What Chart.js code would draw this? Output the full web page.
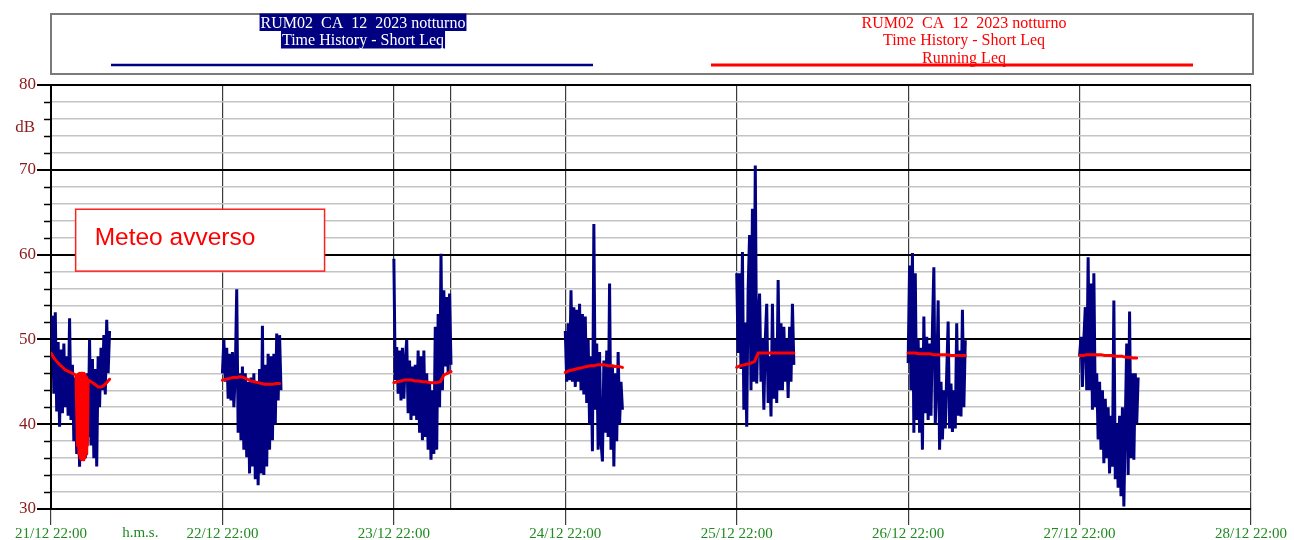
<!DOCTYPE html>
<html>
<head>
<meta charset="utf-8">
<script src="https://cdn.jsdelivr.net/npm/chart.js@4.4.1/dist/chart.umd.min.js"></script>
<style>
  html, body { margin: 0; padding: 0; background: #fff; }
  #wrap { width: 1294px; height: 540px; }
</style>
</head>
<body>
<div id="wrap"><canvas id="leqChart" width="1294" height="540"></canvas></div>
<script>
// time axis is in hours after 21/12 22:00
const nightStarts = [0, 24, 48, 72, 96, 120, 144];
const dayHours = [0, 24, 48, 72, 96, 120, 144, 168];
const dayLabels = ['21/12 22:00', '22/12 22:00', '23/12 22:00', '24/12 22:00',
                   '25/12 22:00', '26/12 22:00', '27/12 22:00', '28/12 22:00'];
const markerHours = [56];           // extra line at 24/12 06:00
const yGridValues = [30, 32, 34, 36, 38, 40, 42, 44, 46, 48, 50, 52, 54, 56, 58,
                     60, 62, 64, 66, 68, 70, 72, 74, 76, 78, 80];

// SHORT LEQ (dB), one value every 0.2 h from 22:00
const shortStep = 0.2;
const shortLeq1 = [47.5, 52.8, 43.6, 53.2, 41.5, 49.7, 39.7, 48.8, 41.3, 49.5, 42.0, 48.0, 41.0, 52.5,
                   40.5, 47.0, 38.0, 45.5, 36.5, 45.0, 35.0, 44.5, 37.0, 45.5, 36.0, 46.0, 38.5, 50.0,
                   37.5, 47.7, 36.0, 46.5, 35.0, 48.0, 42.0, 49.0, 44.0, 50.5, 43.5, 52.3, 46.0, 51.0];
const shortLeq2 = [46, 50, 45, 49, 43, 48.3, 42.8, 48.5, 42, 46, 55.9, 39, 46, 38.1, 46.8, 37, 46, 36.1,
                   45, 34.2, 45.5, 35, 46, 33.5, 45, 32.8, 46.5, 34.2, 51.6, 34, 47, 35, 48.3, 37, 48,
                   38.1, 48.3, 40, 50.7, 42.8, 50.5, 44];
const shortLeq3 = [59.5, 45.2, 49.1, 43.6, 48.7, 42.8, 49, 43, 47.5, 50, 41.3, 47.5, 40.5, 46.8, 41, 47,
                   40.5, 48.7, 39, 48, 38.1, 48.7, 38.5, 46, 37, 45, 35.8, 44, 36.5, 51.5, 37, 53, 42,
                   60.1, 44, 55.8, 46.8, 55, 46, 55.4, 47];
const shortLeq4 = [51, 45, 51.9, 45.2, 55.8, 45, 53.8, 44.4, 53.5, 45, 54.2, 44, 53, 43.5, 52.7, 42.5, 50,
                   40, 48, 36.8, 63.6, 41.7, 49.5, 37, 48.5, 38, 35.6, 47.5, 39, 48.7, 38.5, 56.6, 37,
                   47, 35, 46, 38, 48.5, 40, 45, 41.7];
const shortLeq5 = [57.8, 48.4, 57.8, 46.5, 60.3, 41.7, 52, 39.7, 56, 62.3, 44, 65.4, 45, 70.5, 44.8, 52,
                   55.4, 45, 50, 41.7, 50, 54.2, 42.5, 48, 40.9, 54.2, 43, 50, 42.5, 57, 44, 51.9, 44,
                   51.5, 45, 50, 43.1, 51.5, 45, 54.2, 47];
const shortLeq6 = [47.2, 58.7, 44, 60.2, 39, 57.8, 40.5, 50, 39, 49, 37, 52.7, 41.3, 50.3, 40.5, 49.5, 41,
                   51.3, 58.5, 40, 45, 54.6, 37, 45, 38.2, 44, 39.5, 46, 52.1, 39.5, 44.8, 39.1, 44,
                   39.5, 51.9, 41, 48.7, 40.9, 53.5, 42, 49.9];
const shortLeq7 = [48, 50.3, 44.4, 50, 53.8, 44, 59.7, 44, 56.6, 41.7, 57.8, 42, 46, 38.2, 45, 37, 44,
                   35.4, 43, 36, 42, 34.2, 41, 35, 54.6, 33.5, 40, 32.5, 41, 31.5, 42, 30.3, 40, 49.5,
                   34, 53.3, 36, 46, 35.8, 46, 40.1, 45.5];

// RUNNING LEQ (dB)
// night 1 is irregular: the bad weather burst swings the running value
const runTimes1 = [0, 0.5, 1.0, 1.5, 2.0, 2.5, 3.0, 3.5,
                   3.6, 3.7, 3.8, 3.9, 4.0, 4.1, 4.2, 4.3, 4.4, 4.5, 4.6, 4.7, 4.8, 4.9, 5.0, 5.1, 5.2,
                   5.6, 6.0, 6.6, 7.0, 7.3, 7.8, 8.2];
const runLeq1 = [48.4, 47.7, 47.2, 46.8, 46.4, 46.2, 46.0, 45.8,
                 45.8, 37.5, 45.9, 36.5, 46.0, 36.0, 46.0, 35.8, 46.0, 35.8, 46.0, 36.0, 45.8, 36.5, 45.5, 37.5, 45.2,
                 45.0, 44.8, 44.4, 44.4, 44.5, 44.9, 45.3];
// other nights: one value every 0.5 h
const runStep = 0.5;
const runLeq2 = [45.2, 45.3, 45.4, 45.5, 45.5, 45.6, 45.5, 45.3, 45.1, 45.0, 44.9, 44.8, 44.7, 44.7, 44.7, 44.8, 44.8];
const runLeq3 = [44.9, 45.0, 45.1, 45.2, 45.2, 45.2, 45.1, 45.1, 45.0, 45.0, 44.9, 44.9, 44.9, 45.0, 45.8, 46.0, 46.2];
const runLeq4 = [46.1, 46.3, 46.4, 46.5, 46.6, 46.7, 46.8, 46.9, 46.9, 47.0, 47.0, 47.0, 46.9, 46.9, 46.8, 46.8, 46.7];
const runLeq5 = [46.7, 46.9, 47.0, 47.1, 47.2, 47.4, 48.4, 48.4, 48.4, 48.4, 48.4, 48.4, 48.4, 48.4, 48.4, 48.4, 48.4];
const runLeq6 = [48.4, 48.4, 48.4, 48.3, 48.3, 48.3, 48.3, 48.2, 48.2, 48.2, 48.2, 48.2, 48.1, 48.1, 48.1, 48.1, 48.1];
const runLeq7 = [48.1, 48.1, 48.2, 48.2, 48.2, 48.2, 48.2, 48.1, 48.1, 48.1, 48.0, 48.0, 48.0, 47.9, 47.9, 47.8, 47.8];

// texts
const legendShort = ['RUM02  CA  12  2023 notturno', 'Time History - Short Leq'];
const legendRunning = ['RUM02  CA  12  2023 notturno', 'Time History - Short Leq', 'Running Leq'];
const noteText = 'Meteo avverso';

// BUILD POINTS
// ============
// one {x,y} list per series, a null point breaks the line between nights
function stepSeries(nights, step) {
    const pts = [];
    nights.forEach((vals, i) => {
        vals.forEach((v, j) => pts.push({ x: nightStarts[i] + j * step, y: v }));
        pts.push({ x: nightStarts[i] + vals.length * step, y: null });
    });
    return pts;
}

const shortPts = stepSeries([shortLeq1, shortLeq2, shortLeq3, shortLeq4, shortLeq5, shortLeq6, shortLeq7], shortStep);

const runPts = runTimes1.map((t, i) => ({ x: nightStarts[0] + t, y: runLeq1[i] }));
runPts.push({ x: 8.5, y: null });
stepSeries([runLeq2, runLeq3, runLeq4, runLeq5, runLeq6, runLeq7], runStep).forEach((p) => {
    runPts.push({ x: p.x + 24, y: p.y });   // nights 2..7 start one day later
});

// DECORATIONS
// ===========
// legend frame, minor ticks, "dB", "h.m.s." and the weather note
const SERIF = '"Liberation Serif", "Times New Roman", serif';

const decor = {
    id: 'decor',
    afterDraw(chart) {
        const { ctx, chartArea, scales } = chart;
        const x = scales.x;
        const y = scales.y;
        ctx.save();

        // minor ticks on the y axis
        ctx.strokeStyle = '#000';
        ctx.lineWidth = 1.5;
        yGridValues.filter((v) => v % 10 !== 0).forEach((v) => {
            const py = Math.round(y.getPixelForValue(v)) + 0.5;
            ctx.beginPath();
            ctx.moveTo(chartArea.left - 7, py);
            ctx.lineTo(chartArea.left, py);
            ctx.stroke();
        });

        // unit label
        ctx.fillStyle = '#8b1a1a';
        ctx.font = `17px ${SERIF}`;
        ctx.textAlign = 'right';
        ctx.textBaseline = 'middle';
        ctx.fillText('dB', chartArea.left - 16, y.getPixelForValue(75));

        // time format label
        ctx.fillStyle = '#1f8a1f';
        ctx.font = `15px ${SERIF}`;
        ctx.textAlign = 'center';
        ctx.fillText('h.m.s.', x.getPixelForValue(12.5), chartArea.bottom + 24);

        // weather note box
        const bx0 = x.getPixelForValue(3.45);
        const bx1 = x.getPixelForValue(38.3);
        const by0 = y.getPixelForValue(65.35);
        const by1 = y.getPixelForValue(58.05);
        ctx.fillStyle = '#fff';
        ctx.fillRect(bx0, by0, bx1 - bx0, by1 - by0);
        ctx.strokeStyle = '#ff2020';
        ctx.lineWidth = 1.5;
        ctx.strokeRect(bx0, by0, bx1 - bx0, by1 - by0);
        ctx.fillStyle = '#ff0000';
        ctx.font = '24.5px "Liberation Sans", Arial, sans-serif';
        ctx.textAlign = 'left';
        ctx.textBaseline = 'middle';
        ctx.fillText(noteText, bx0 + 19, (by0 + by1) / 2 - 2);

        // legend frame
        ctx.strokeStyle = '#7a7a7a';
        ctx.lineWidth = 2;
        ctx.strokeRect(chartArea.left, 14, chartArea.right - chartArea.left + 2, 60);

        ctx.font = `16px ${SERIF}`;
        ctx.textAlign = 'center';
        ctx.textBaseline = 'middle';

        // left entry: selected, white on navy
        const lx = 363;
        legendShort.forEach((line, i) => {
            const w = ctx.measureText(line).width;
            const cy = 22.5 + i * 17.5;
            ctx.fillStyle = '#000080';
            ctx.fillRect(lx - w / 2 - 1, cy - 9, w + 2, 17.5);
            ctx.fillStyle = '#fff';
            ctx.fillText(line, lx, cy + 1);
        });
        ctx.strokeStyle = '#000080';
        ctx.lineWidth = 2.5;
        ctx.beginPath();
        ctx.moveTo(111, 65);
        ctx.lineTo(593, 65);
        ctx.stroke();

        // right entry
        const rx = 964;
        ctx.fillStyle = '#ff0000';
        legendRunning.forEach((line, i) => {
            ctx.fillText(line, rx, 23.5 + i * 17.5);
        });
        ctx.strokeStyle = '#ff0000';
        ctx.lineWidth = 3;
        ctx.beginPath();
        ctx.moveTo(711, 65);
        ctx.lineTo(1193, 65);
        ctx.stroke();

        ctx.restore();
    },
};

// CHART
// =====
const isMajor = (c) => c.tick && c.tick.value % 10 === 0;
const isDay = (c) => c.tick && dayHours.includes(c.tick.value);

new Chart(document.getElementById('leqChart').getContext('2d'), {
    type: 'line',
    data: {
        datasets: [
            {
                label: 'Running Leq',
                data: runPts,
                borderColor: '#ff0000',
                borderWidth: 3,
                borderJoinStyle: 'round',
                borderCapStyle: 'round',
                pointRadius: 0,
                spanGaps: false,
                tension: 0,
            },
            {
                label: 'Short Leq',
                data: shortPts,
                borderColor: '#000080',
                borderWidth: 3,
                borderJoinStyle: 'bevel',
                pointRadius: 0,
                spanGaps: false,
                tension: 0,
            },
        ],
    },
    options: {
        responsive: false,
        animation: false,
        layout: { padding: { top: 85, right: 43, left: 0, bottom: 0 } },
        plugins: {
            legend: { display: false },
            tooltip: { enabled: false },
        },
        scales: {
            x: {
                type: 'linear',
                min: 0,
                max: 168,
                afterBuildTicks: (s) => {
                    s.ticks = dayHours.concat(markerHours).sort((a, b) => a - b).map((v) => ({ value: v }));
                },
                afterFit: (s) => { s.height = 31; },
                grid: {
                    color: '#3c3c3c',
                    lineWidth: 1.2,
                    tickLength: 16,
                    tickColor: (c) => (isDay(c) ? '#3c3c3c' : 'rgba(0,0,0,0)'),
                },
                border: { color: '#000', width: 2 },
                ticks: {
                    autoSkip: false,
                    maxRotation: 0,
                    padding: 0,
                    color: '#1f8a1f',
                    font: { family: SERIF, size: 15 },
                    callback: (v) => {
                        const i = dayHours.indexOf(v);
                        return i >= 0 ? dayLabels[i] : '';
                    },
                },
            },
            y: {
                min: 30,
                max: 80,
                afterBuildTicks: (s) => { s.ticks = yGridValues.map((v) => ({ value: v })); },
                afterFit: (s) => { s.width = 51; },
                grid: {
                    color: (c) => (isMajor(c) ? '#000' : '#c4c4c4'),
                    lineWidth: (c) => (isMajor(c) ? 2 : 1.5),
                    tickLength: 14,
                    tickColor: (c) => (isMajor(c) ? '#000' : 'rgba(0,0,0,0)'),
                },
                border: { color: '#000', width: 2 },
                ticks: {
                    autoSkip: false,
                    padding: 1,
                    color: '#8b1a1a',
                    font: { family: SERIF, size: 17 },
                    callback: (v) => (v % 10 === 0 ? String(v) : ''),
                },
            },
        },
    },
    plugins: [decor],
});
</script>
</body>
</html>
